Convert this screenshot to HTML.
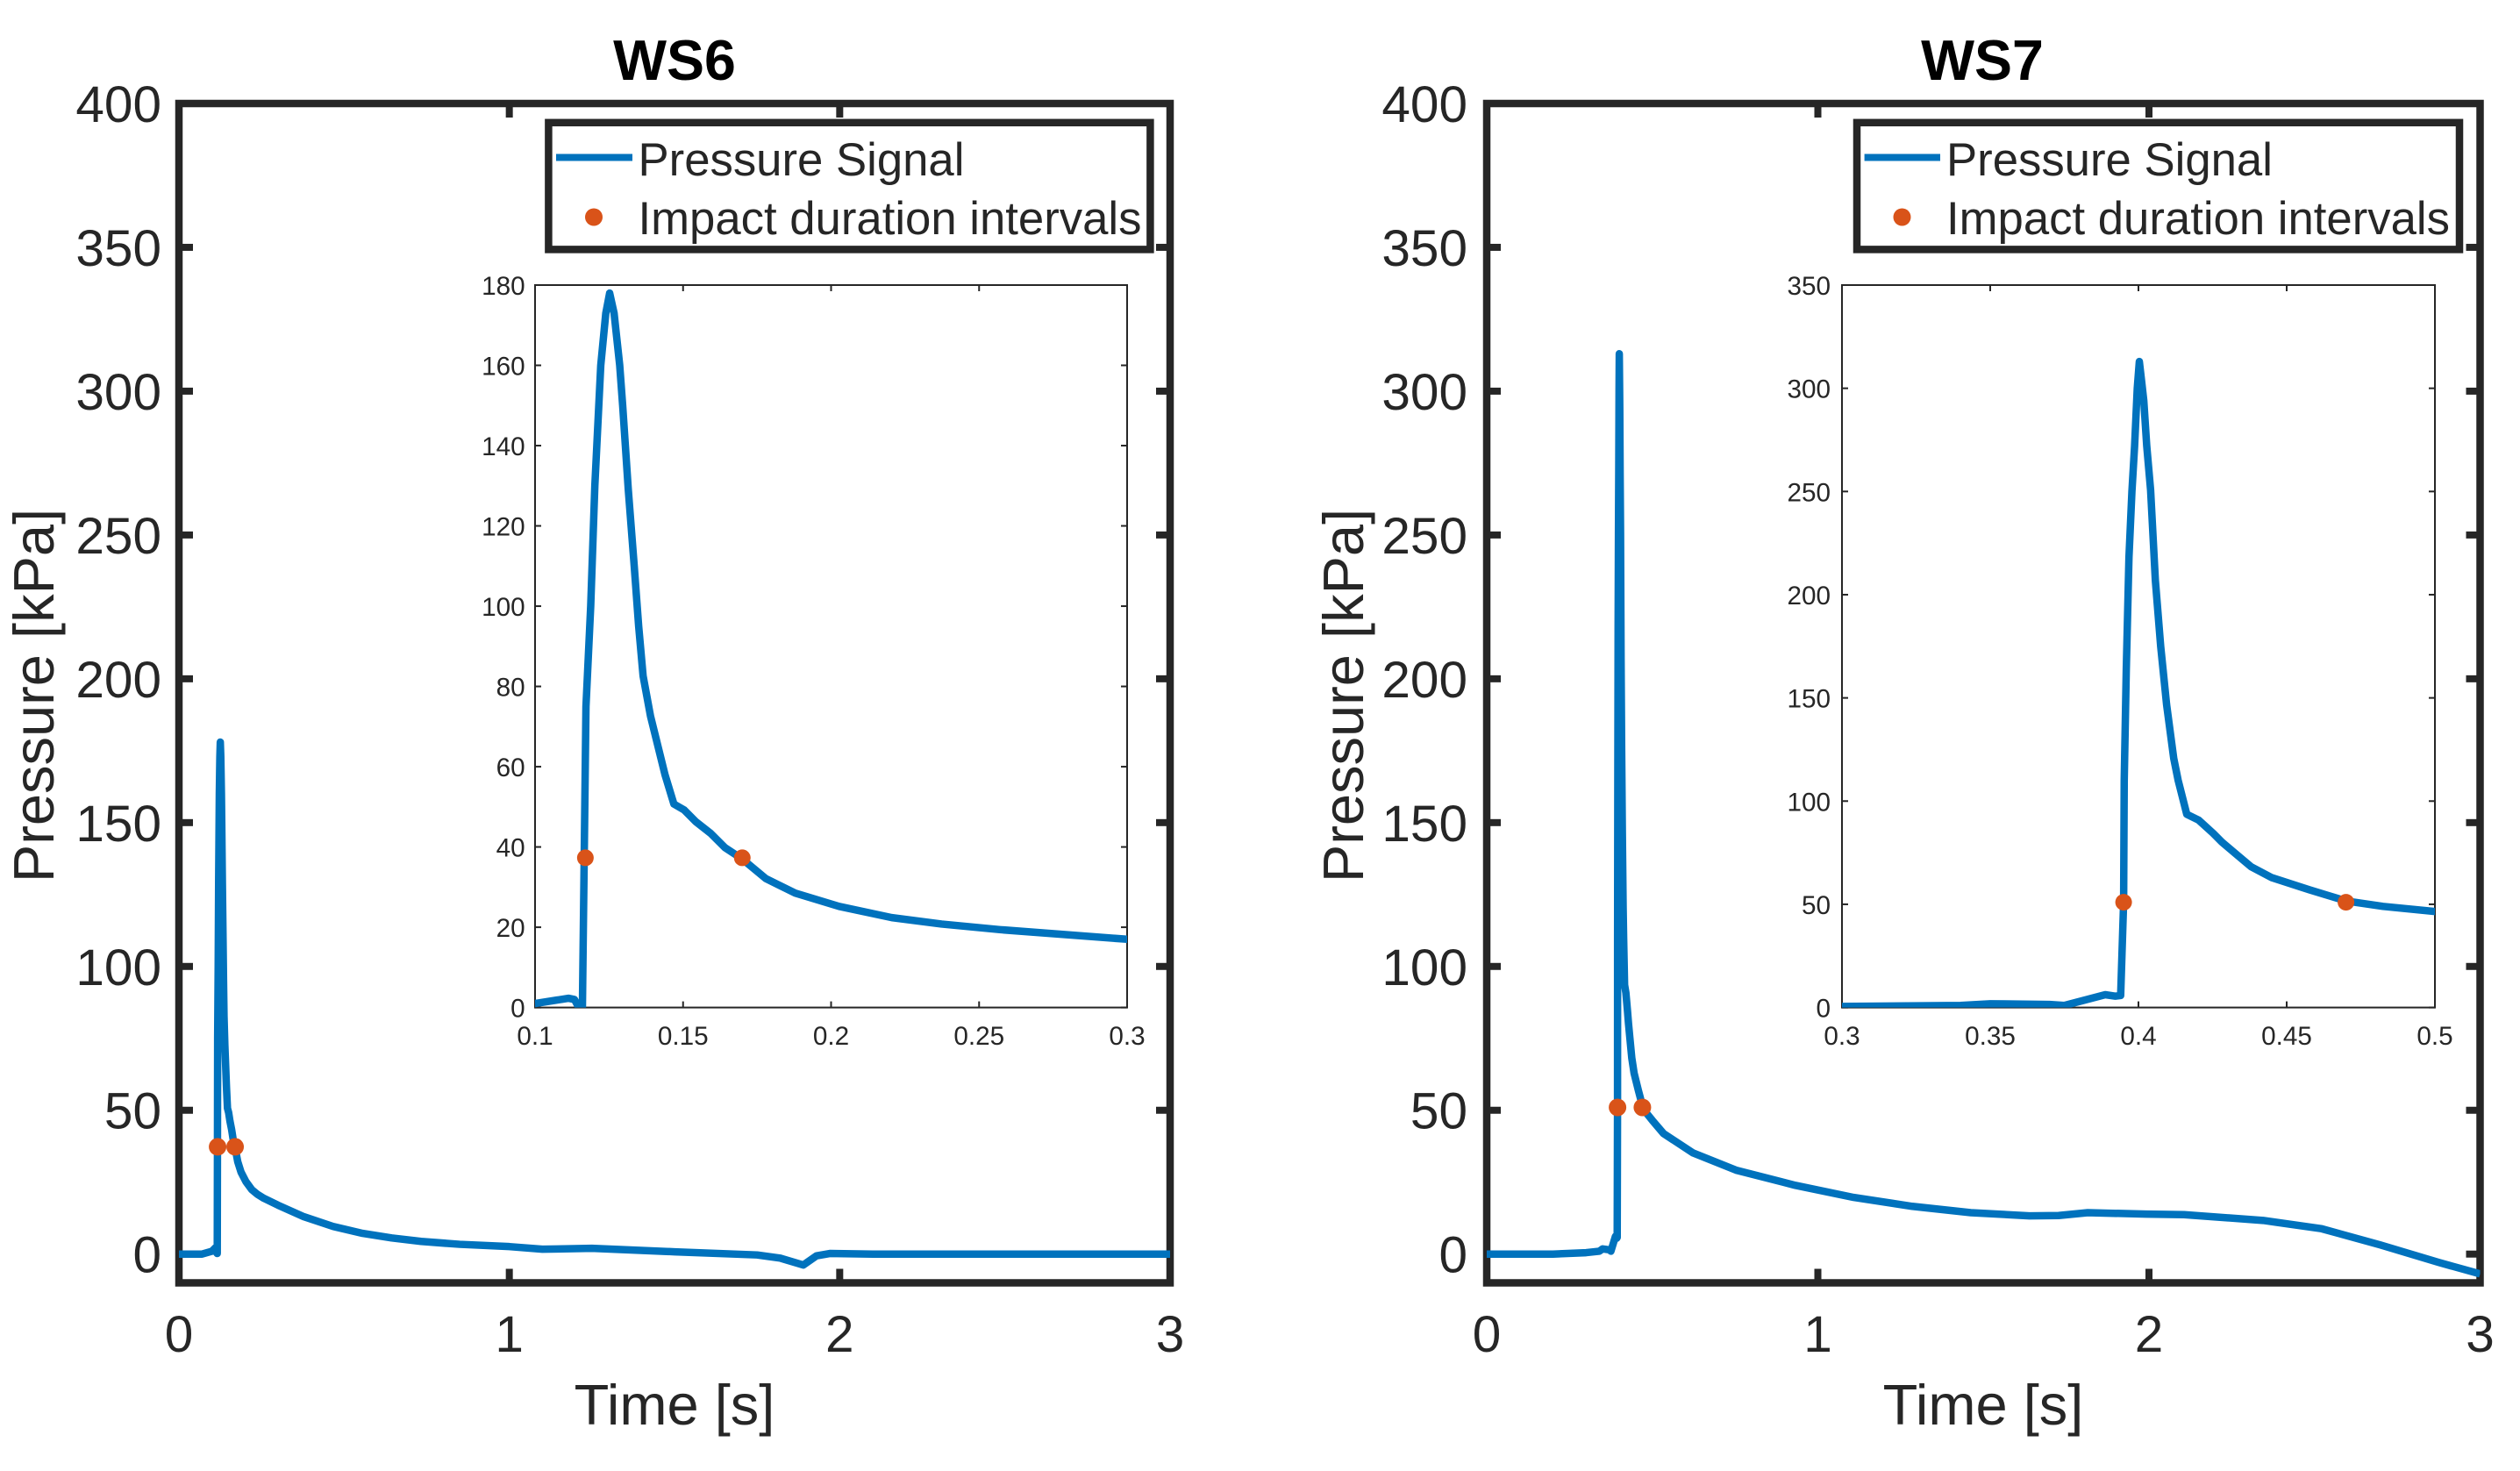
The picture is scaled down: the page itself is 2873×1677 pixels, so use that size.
<!DOCTYPE html>
<html lang="en">
<head>
<meta charset="utf-8">
<title>WS6 and WS7 pressure signals</title>
<style>
html,body{margin:0;padding:0;background:#fff;}
svg{display:block;font-family:"Liberation Sans",Arial,sans-serif;}
text{fill:#262626;}
</style>
</head>
<body>
<svg id="figure" xmlns="http://www.w3.org/2000/svg" width="2873" height="1677" viewBox="0 0 2873 1677">
  <rect x="0" y="0" width="2873" height="1677" fill="#fff"/>
  <defs>
    <clipPath id="clip-ws6-main"><rect x="200" y="118" width="1134" height="1344.5"/></clipPath>
    <clipPath id="clip-ws6-inset"><rect x="610" y="325" width="675" height="823.6"/></clipPath>
    <clipPath id="clip-ws7-main"><rect x="1691" y="118" width="1136.5" height="1344.5"/></clipPath>
    <clipPath id="clip-ws7-inset"><rect x="2100" y="325" width="676" height="823.6"/></clipPath>
  </defs>

  <g id="ws6-panel">
    <text x="769" y="91" font-size="64.5" font-weight="bold" text-anchor="middle" style="fill:#000">WS6</text>
    <text transform="translate(61,793) rotate(-90)" font-size="65" text-anchor="middle">Pressure [kPa]</text>
    <text x="769" y="1624" font-size="65" text-anchor="middle">Time [s]</text>
    <rect x="204" y="118" width="1130" height="1344.5" fill="#fff" stroke="#262626" stroke-width="8.5"/>
    <g id="ws6-main-ticks"></g>
    <g id="ws6-main-plot" clip-path="url(#clip-ws6-main)"></g>
    <g id="ws6-main-markers"></g>
    <g id="ws6-inset">
      <rect x="610" y="325" width="675" height="823.6" fill="#fff" stroke="#262626" stroke-width="2"/>
      <g id="ws6-inset-ticks"></g>
      <g id="ws6-inset-plot" clip-path="url(#clip-ws6-inset)"></g>
      <g id="ws6-inset-markers"></g>
    </g>
    <g>
      <rect x="625.4" y="139.8" width="686" height="144.6" fill="#fff" stroke="#262626" stroke-width="8.5"/>
      <line x1="634" y1="179.5" x2="721" y2="179.5" stroke="#0072BD" stroke-width="8"/>
      <text x="727.5" y="200" font-size="52.7">Pressure Signal</text>
      <circle cx="677" cy="247.5" r="10" fill="#D95319"/>
      <text x="727.5" y="267" font-size="52.7">Impact duration intervals</text>
    </g>
  </g>

  <g id="ws7-panel">
    <text x="2260" y="91" font-size="64.5" font-weight="bold" text-anchor="middle" style="fill:#000">WS7</text>
    <text transform="translate(1554,793) rotate(-90)" font-size="65" text-anchor="middle">Pressure [kPa]</text>
    <text x="2261" y="1624" font-size="65" text-anchor="middle">Time [s]</text>
    <rect x="1695" y="118" width="1132.5" height="1344.5" fill="#fff" stroke="#262626" stroke-width="8.5"/>
    <g id="ws7-main-ticks"></g>
    <g id="ws7-main-plot" clip-path="url(#clip-ws7-main)"></g>
    <g id="ws7-main-markers"></g>
    <g id="ws7-inset">
      <rect x="2100" y="325" width="676" height="823.6" fill="#fff" stroke="#262626" stroke-width="2"/>
      <g id="ws7-inset-ticks"></g>
      <g id="ws7-inset-plot" clip-path="url(#clip-ws7-inset)"></g>
      <g id="ws7-inset-markers"></g>
    </g>
    <g>
      <rect x="2117" y="139.8" width="687" height="144.6" fill="#fff" stroke="#262626" stroke-width="8.5"/>
      <line x1="2125.6" y1="179.5" x2="2212" y2="179.5" stroke="#0072BD" stroke-width="8"/>
      <text x="2219" y="200" font-size="52.7">Pressure Signal</text>
      <circle cx="2168.5" cy="247.5" r="10" fill="#D95319"/>
      <text x="2219" y="267" font-size="52.7">Impact duration intervals</text>
    </g>
  </g>
</svg>

<script>
// ---------- chart data ----------
var mainXTicks = [0, 1, 2, 3];
var mainYTicks = [0, 50, 100, 150, 200, 250, 300, 350, 400];

var ws6InsetXTicks = [0.1, 0.15, 0.2, 0.25, 0.3];
var ws6InsetYTicks = [0, 20, 40, 60, 80, 100, 120, 140, 160, 180];
var ws7InsetXTicks = [0.3, 0.35, 0.4, 0.45, 0.5];
var ws7InsetYTicks = [0, 50, 100, 150, 200, 250, 300, 350];

var ws6Time = [0, 0.05, 0.07, 0.1, 0.1113, 0.1133, 0.1145, 0.116, 0.1166, 0.1172, 0.1188, 0.1202, 0.1222, 0.1239, 0.1252, 0.1267, 0.1286, 0.1296, 0.1315, 0.1335, 0.135, 0.1365, 0.139, 0.1439, 0.1469, 0.1504, 0.1543, 0.1593, 0.1642, 0.17, 0.178, 0.1879, 0.2027, 0.2205, 0.2373, 0.257, 0.3, 0.378, 0.467, 0.556, 0.644, 0.733, 0.85, 1.0, 1.1, 1.25, 1.5, 1.75, 1.82, 1.89, 1.93, 1.97, 2.1, 2.5, 3];
var ws6Pressure = [0, 0, 0, 1, 2.3, 2, 0.4, 0.2, 37, 75, 100, 130, 160, 173, 178, 173, 160, 150, 129, 110, 95, 82.6, 72.6, 58, 50.7, 49.2, 46.3, 43.4, 39.8, 37, 32.1, 28.5, 25.2, 22.4, 20.8, 19.4, 17, 13, 9.6, 7.2, 5.6, 4.4, 3.4, 2.6, 1.7, 2, 0.8, -0.3, -1.4, -3.8, -0.6, 0.2, 0, 0, 0];
var ws6ImpactTime = [0.117, 0.17];
var ws6ImpactPressure = [37.3, 37.3];

var ws7Time = [0, 0.2, 0.3, 0.34, 0.35, 0.37, 0.375, 0.3888, 0.3922, 0.394, 0.395, 0.3952, 0.3959, 0.3968, 0.3978, 0.3987, 0.3996, 0.4003, 0.4011, 0.4018, 0.4028, 0.4041, 0.4057, 0.4075, 0.4095, 0.4119, 0.4134, 0.4163, 0.4203, 0.4252, 0.4281, 0.4322, 0.438, 0.445, 0.4577, 0.4701, 0.4825, 0.5, 0.534, 0.6227, 0.755, 0.932, 1.108, 1.285, 1.462, 1.639, 1.727, 1.815, 1.992, 2.106, 2.345, 2.522, 2.698, 2.875, 3];
var ws7Pressure = [0, 0, 0.5, 1, 1.8, 1.5, 1, 6.2, 5.5, 5.8, 51, 110, 164, 218, 250, 272, 300, 313, 303, 294, 272, 250.7, 207, 175, 146.7, 120.7, 110, 93.6, 90.8, 84.4, 80.2, 75.2, 68.2, 62.9, 57, 51.6, 49, 46.5, 41.9, 35.2, 29.1, 23.9, 19.7, 16.6, 14.4, 13.3, 13.4, 14.4, 13.9, 13.7, 11.7, 8.8, 3.2, -2.9, -6.9];
var ws7ImpactTime = [0.395, 0.47];
var ws7ImpactPressure = [51, 51];

// ---------- axis functions ----------
var SVG_NS = 'http://www.w3.org/2000/svg';
var INK = '#262626';
var BLUE = '#0072BD';
var ORANGE = '#D95319';

function linearScale(d0, d1, r0, r1) {
  return function (v) { return r0 + (v - d0) * (r1 - r0) / (d1 - d0); };
}
function node(tag, attrs) {
  var n = document.createElementNS(SVG_NS, tag);
  for (var k in attrs) { n.setAttribute(k, attrs[k]); }
  return n;
}

function drawCurve(parentId, prefix, times, values, sx, sy) {
  var pts = times.map(function (t, i) {
    return sx(t).toFixed(2) + ',' + sy(values[i]).toFixed(2);
  }).join(' ');
  var line = node('polyline', { points: pts, fill: 'none', stroke: BLUE, 'stroke-width': 8.5, 'stroke-linejoin': 'round' });
  
  
  document.getElementById(parentId).appendChild(line);
}

function drawMarkers(parentId, prefix, times, values, sx, sy, radius) {
  var parent = document.getElementById(parentId);
  times.forEach(function (t, i) {
    var c = node('circle', { cx: sx(t), cy: sy(values[i]), r: radius, fill: ORANGE });
    
    
    parent.appendChild(c);
  });
}

function drawTicks(parentId, prefix, xTicks, yTicks, sx, sy, box, style) {
  var parent = document.getElementById(parentId);
  xTicks.forEach(function (v) {
    var x = sx(v);
    [[box.bottom, box.bottom - style.len], [box.top, box.top + style.len]].forEach(function (e) {
      var t = node('line', { x1: x, x2: x, y1: e[0], y2: e[1], stroke: INK, 'stroke-width': style.width });
      
      
      parent.appendChild(t);
    });
    var label = node('text', { x: x, y: style.xBase, 'font-size': style.font, 'text-anchor': 'middle' });
    
    
    label.textContent = String(v);
    parent.appendChild(label);
  });
  yTicks.forEach(function (v) {
    var y = sy(v);
    [[box.left, box.left + style.len], [box.right, box.right - style.len]].forEach(function (e) {
      var t = node('line', { x1: e[0], x2: e[1], y1: y, y2: y, stroke: INK, 'stroke-width': style.width });
      
      
      parent.appendChild(t);
    });
    var label = node('text', { x: style.yRight, y: y + style.yShift, 'font-size': style.font, 'text-anchor': 'end' });
    
    
    label.textContent = String(v);
    parent.appendChild(label);
  });
}

function drawPanel(id, times, values, impactT, impactV, mainBox, insetBox, insetXDomain, insetYDomain, insetXTicks, insetYTicks, mainLabelRight, insetLabelRight) {
  var mx = linearScale(0, 3, mainBox.left, mainBox.right);
  var my = linearScale(-10, 400, mainBox.bottom, mainBox.top);
  drawTicks(id + '-main-ticks', id + '-main', mainXTicks, mainYTicks, mx, my, mainBox,
    { len: 16, width: 8, font: 58.5, xBase: 1541, yRight: mainLabelRight, yShift: 21 });
  drawCurve(id + '-main-plot', id + '-main', times, values, mx, my);
  drawMarkers(id + '-main-markers', id + '-main', impactT, impactV, mx, my, 10);

  var ix = linearScale(insetXDomain[0], insetXDomain[1], insetBox.left, insetBox.right);
  var iy = linearScale(insetYDomain[0], insetYDomain[1], insetBox.bottom, insetBox.top);
  drawTicks(id + '-inset-ticks', id + '-inset', insetXTicks, insetYTicks, ix, iy, insetBox,
    { len: 7, width: 2, font: 29.7, xBase: 1191, yRight: insetLabelRight, yShift: 11 });
  drawCurve(id + '-inset-plot', id + '-inset', times, values, ix, iy);
  drawMarkers(id + '-inset-markers', id + '-inset', impactT, impactV, ix, iy, 9.5);
}

drawPanel('ws6', ws6Time, ws6Pressure, ws6ImpactTime, ws6ImpactPressure,
  { left: 204, right: 1334, top: 118, bottom: 1462.5 },
  { left: 610, right: 1285, top: 325, bottom: 1148.6 },
  [0.1, 0.3], [0, 180], ws6InsetXTicks, ws6InsetYTicks, 184, 598.7);

drawPanel('ws7', ws7Time, ws7Pressure, ws7ImpactTime, ws7ImpactPressure,
  { left: 1695, right: 2827.5, top: 118, bottom: 1462.5 },
  { left: 2100, right: 2776, top: 325, bottom: 1148.6 },
  [0.3, 0.5], [0, 350], ws7InsetXTicks, ws7InsetYTicks, 1673, 2087);
</script>
</body>
</html>
